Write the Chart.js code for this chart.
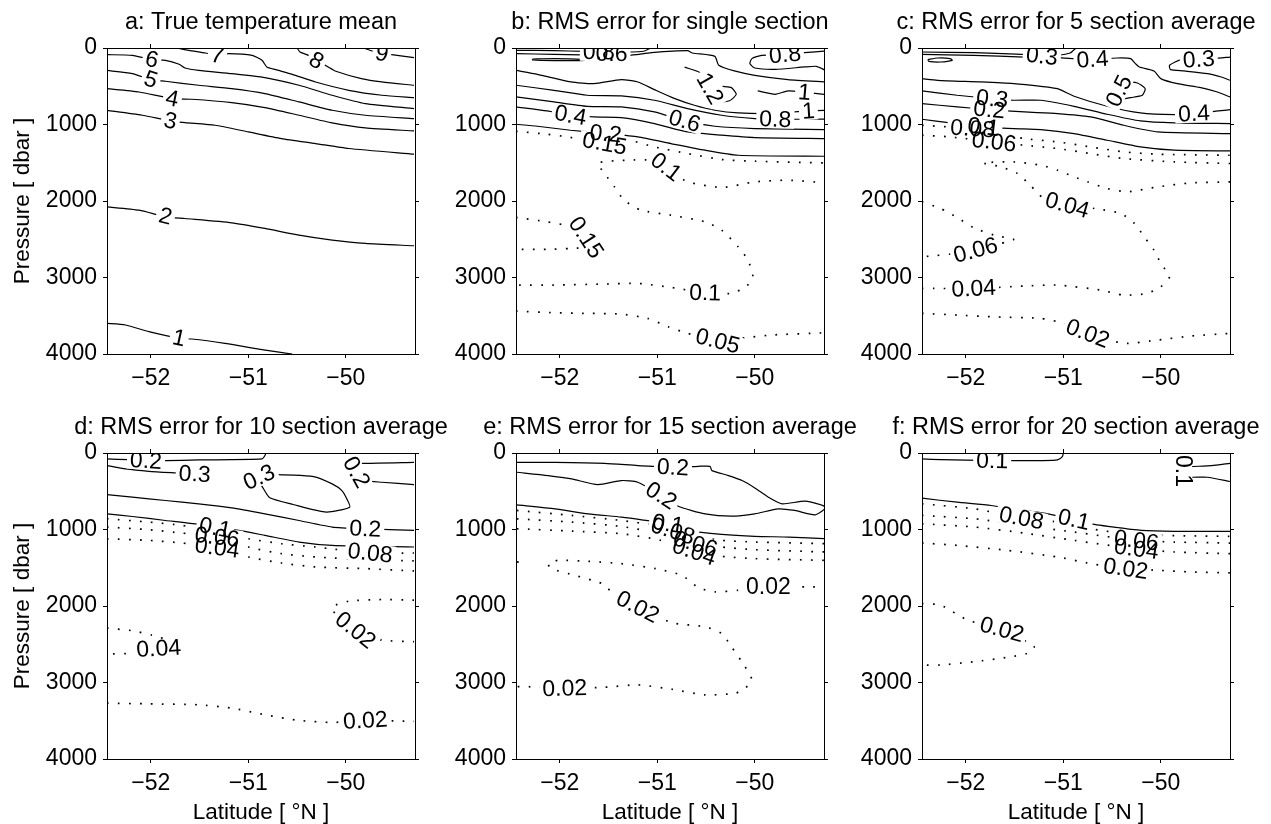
<!DOCTYPE html>
<html>
<head>
<meta charset="utf-8">
<script src="https://cdn.jsdelivr.net/npm/chart.js@4.4.1/dist/chart.umd.min.js"></script>
<style>
  html, body { margin: 0; padding: 0; background: #fff; }
  body { width: 1271px; height: 824px; position: relative; overflow: hidden; }
  canvas { position: absolute; }
</style>
</head>
<body>
<canvas id="c0" width="442" height="423"></canvas>
<canvas id="c1" width="442" height="423"></canvas>
<canvas id="c2" width="442" height="423"></canvas>
<canvas id="c3" width="442" height="423"></canvas>
<canvas id="c4" width="442" height="423"></canvas>
<canvas id="c5" width="442" height="423"></canvas>
<script>
const titles = [
  'a: True temperature mean',
  'b: RMS error for single section',
  'c: RMS error for 5 section average',
  'd: RMS error for 10 section average',
  'e: RMS error for 15 section average',
  'f: RMS error for 20 section average'
];
const latTicks = [-52, -51, -50];
const presTicks = [0, 1000, 2000, 3000, 4000];
const latRange = [-52.45, -49.29];
const presRange = [0, 4000];
// contours below this level are drawn dotted
const dottedBelow = [0, 0.2, 0.1, 0.1, 0.1, 0.1];

// each contour: level, points [lat, dbar], label positions [lat, dbar]
const tempMean = [
  { level: '9', pts: [[-49.82,0],[-49.73,39],[-49.63,70],[-49.53,87],[-49.30,126]], at: [[-49.63,70]] },
  { level: '8', pts: [[-50.50,0],[-50.47,52],[-50.40,87],[-50.30,161],[-50.18,248],[-50.11,300],[-49.84,400],[-49.63,444],[-49.30,487]], at: [[-50.30,165]] },
  { level: '7', pts: [[-51.73,0],[-51.61,30],[-51.44,65],[-51.32,96],[-51.20,74],[-50.96,96],[-50.86,161],[-50.81,248],[-50.72,283],[-50.55,344],[-50.31,444],[-49.97,553],[-49.63,618],[-49.30,649]], at: [[-51.32,96]] },
  { level: '6', pts: [[-52.46,87],[-52.19,96],[-51.99,152],[-51.85,161],[-51.71,213],[-51.65,261],[-51.51,292],[-51.17,335],[-50.83,387],[-50.48,487],[-50.14,618],[-49.80,727],[-49.30,792]], at: [[-51.99,150]] },
  { level: '5', pts: [[-52.46,292],[-52.19,335],[-52.00,413],[-51.85,435],[-51.51,487],[-51.17,531],[-50.83,596],[-50.48,705],[-50.14,814],[-49.80,879],[-49.30,923]], at: [[-52.00,413]] },
  { level: '4', pts: [[-52.46,531],[-52.12,575],[-51.78,662],[-51.58,670],[-51.17,714],[-50.83,779],[-50.48,879],[-50.14,979],[-49.80,1045],[-49.30,1084]], at: [[-51.78,662]] },
  { level: '3', pts: [[-52.46,814],[-52.09,879],[-51.80,953],[-51.65,975],[-51.34,1010],[-51.00,1097],[-50.66,1184],[-50.31,1249],[-49.97,1314],[-49.30,1388]], at: [[-51.80,953]] },
  { level: '2', pts: [[-52.46,2076],[-52.12,2120],[-51.85,2207],[-51.65,2229],[-51.17,2285],[-50.83,2359],[-50.48,2446],[-50.14,2511],[-49.80,2555],[-49.30,2585]], at: [[-51.85,2200]] },
  { level: '1', pts: [[-52.46,3600],[-52.26,3621],[-52.02,3708],[-51.71,3795],[-51.58,3804],[-51.24,3861],[-51.00,3913],[-50.72,3970],[-50.55,4000]], at: [[-51.71,3790]] }
];

const single = [
  { level: '0.8', pts: [[-52.45,30],[-52.06,35],[-51.75,44],[-51.30,52],[-51.13,39],[-51.07,0]], at: [[-51.60,52]] },
  { level: '0.6', pts: [[-52.45,74],[-52.06,83],[-51.78,91],[-51.30,96],[-51.06,61],[-50.69,35],[-50.64,65],[-50.41,109],[-50.37,226],[-50.21,300],[-50.00,357],[-49.66,413],[-49.27,444]], at: [[-51.47,74]] },
  { level: '0.8', pts: [[-52.28,144],[-52.06,139],[-51.78,148],[-51.75,161],[-52.06,165],[-52.28,157],[-52.28,144]], at: [] },
  { level: '0.8', pts: [[-49.27,39],[-49.49,61],[-49.69,87],[-49.93,96],[-50.03,139],[-50.05,205],[-50.00,261],[-49.79,279],[-49.49,248],[-49.37,239],[-49.31,270],[-49.27,300]], at: [[-49.69,87]] },
  { level: '1.2', pts: [[-50.72,250],[-50.55,330],[-50.46,531],[-50.40,700],[-50.26,690],[-50.19,605],[-50.24,518],[-50.33,501]], at: [[-50.46,531]] },
  { level: '1', pts: [[-52.45,292],[-52.23,344],[-51.89,444],[-51.65,466],[-51.37,413],[-51.20,444],[-51.03,544],[-50.82,662],[-50.62,749],[-50.41,814],[-50.17,849],[-49.83,857],[-49.66,840],[-49.45,823],[-49.27,814]], at: [[-49.45,823]] },
  { level: '1', pts: [[-49.97,561],[-49.79,605],[-49.66,561],[-49.49,579],[-49.27,609]], at: [[-49.49,579]] },
  { level: '0.8', pts: [[-52.45,487],[-52.06,553],[-51.72,618],[-51.37,627],[-51.03,683],[-50.69,792],[-50.34,879],[-50.00,923],[-49.79,931],[-49.27,931]], at: [[-49.79,931]] },
  { level: '0.6', pts: [[-52.45,640],[-52.06,705],[-51.72,762],[-51.37,770],[-51.03,836],[-50.72,953],[-50.41,1023],[-50.00,1053],[-49.27,1066]], at: [[-50.72,953]] },
  { level: '0.4', pts: [[-52.45,770],[-52.13,823],[-51.89,879],[-51.65,901],[-51.37,910],[-51.03,988],[-50.69,1097],[-50.34,1140],[-50.00,1171],[-49.27,1184]], at: [[-51.89,879]] },
  { level: '0.2', pts: [[-52.45,997],[-52.23,1023],[-51.89,1075],[-51.53,1119],[-51.20,1162],[-50.86,1249],[-50.51,1336],[-50.17,1402],[-49.27,1415]], at: [[-51.53,1119]] },
  { level: '0.15', pts: [[-52.45,1088],[-52.13,1127],[-51.92,1162],[-51.54,1249],[-51.27,1214],[-51.03,1293],[-50.69,1380],[-50.34,1458],[-50.00,1480],[-49.27,1502]], at: [[-51.54,1249]] },
  { level: '0.1', pts: [[-49.27,1763],[-49.66,1728],[-50.00,1750],[-50.34,1824],[-50.69,1750],[-50.82,1641],[-50.91,1554],[-51.06,1467],[-51.30,1467],[-51.61,1502],[-51.54,1641],[-51.44,1815],[-51.34,1989],[-51.17,2120],[-50.86,2185],[-50.51,2272],[-50.34,2381],[-50.17,2599],[-50.07,2773],[-50.02,2990],[-50.09,3121],[-50.24,3208],[-50.51,3199],[-50.86,3130],[-51.20,3077],[-51.54,3086],[-52.06,3099],[-52.45,3099]], at: [[-50.91,1554],[-50.51,3199]] },
  { level: '0.15', pts: [[-52.45,2215],[-52.13,2272],[-51.96,2310],[-51.80,2340],[-51.73,2477],[-51.68,2580],[-51.74,2607],[-51.89,2620],[-52.13,2633],[-52.45,2633]], at: [[-51.73,2477]] },
  { level: '0.05', pts: [[-52.45,3439],[-52.06,3460],[-51.72,3469],[-51.37,3478],[-51.10,3534],[-50.89,3643],[-50.69,3730],[-50.38,3830],[-50.14,3795],[-49.83,3752],[-49.27,3722]], at: [[-50.38,3830]] }
];

const avg5 = [
  { level: '0.3', pts: [[-52.45,52],[-51.92,61],[-51.37,87],[-51.22,109],[-51.06,96],[-50.93,65],[-50.87,0]], at: [[-51.22,105]] },
  { level: '0.4', pts: [[-52.45,83],[-51.92,96],[-51.40,118],[-51.06,126],[-50.89,139],[-50.70,152],[-50.45,131],[-50.31,139],[-50.26,205],[-50.22,248],[-50.07,300],[-50.00,400],[-49.83,466],[-49.59,518],[-49.42,575],[-49.29,640]], at: [[-50.70,150]] },
  { level: '0.5', pts: [[-52.39,152],[-52.29,131],[-52.16,139],[-52.14,161],[-52.26,183],[-52.38,174],[-52.39,152]], at: [] },
  { level: '0.3', pts: [[-49.29,118],[-49.45,139],[-49.61,152],[-49.79,152],[-49.91,226],[-49.90,283],[-49.76,300],[-49.52,335],[-49.38,379],[-49.29,422]], at: [[-49.61,150]] },
  { level: '0.5', pts: [[-50.48,683],[-50.43,553],[-50.36,444],[-50.24,457],[-50.16,531],[-50.19,618],[-50.31,649],[-50.43,675],[-50.48,683]], at: [[-50.43,560]] },
  { level: '0.4', pts: [[-52.45,400],[-52.29,422],[-51.85,444],[-51.51,466],[-51.23,501],[-51.06,531],[-50.89,631],[-50.55,762],[-50.21,849],[-49.86,871],[-49.66,857],[-49.29,805]], at: [[-49.66,857]] },
  { level: '0.3', pts: [[-52.45,561],[-52.09,618],[-51.73,662],[-51.51,683],[-51.23,683],[-50.89,762],[-50.55,866],[-50.21,953],[-49.86,979],[-49.29,988]], at: [[-51.73,662]] },
  { level: '0.2', pts: [[-52.45,727],[-52.09,770],[-51.76,805],[-51.40,836],[-51.06,857],[-50.72,901],[-50.38,1010],[-50.03,1097],[-49.29,1119]], at: [[-51.76,805]] },
  { level: '0.1', pts: [[-52.45,931],[-52.16,979],[-51.82,1031],[-51.51,1053],[-51.23,1066],[-50.89,1119],[-50.55,1206],[-50.21,1293],[-49.86,1336],[-49.29,1345]], at: [[-51.82,1031]] },
  { level: '0.08', pts: [[-52.45,1010],[-52.19,1031],[-51.93,1053],[-51.64,1119],[-51.40,1184],[-51.06,1227],[-50.72,1293],[-50.38,1358],[-50.03,1388],[-49.29,1402]], at: [[-51.93,1053]] },
  { level: '0.06', pts: [[-52.45,1140],[-52.16,1162],[-51.71,1227],[-51.40,1271],[-51.06,1314],[-50.72,1380],[-50.38,1445],[-49.86,1489],[-49.29,1510]], at: [[-51.71,1227]] },
  { level: '0.04', pts: [[-49.29,1750],[-49.69,1763],[-50.03,1815],[-50.34,1880],[-50.55,1837],[-50.75,1750],[-50.89,1684],[-51.06,1597],[-51.23,1532],[-51.51,1489],[-51.82,1502],[-51.64,1554],[-51.47,1641],[-51.34,1793],[-51.20,1967],[-50.96,2054],[-50.68,2098],[-50.41,2163],[-50.27,2294],[-50.17,2468],[-50.07,2642],[-50.00,2816],[-49.91,2990],[-50.00,3121],[-50.14,3208],[-50.38,3230],[-50.62,3164],[-51.06,3099],[-51.40,3112],[-51.92,3143],[-52.33,3143],[-52.45,3143]], at: [[-50.96,2054],[-51.92,3143]] },
  { level: '0.06', pts: [[-52.45,2010],[-52.26,2098],[-52.09,2215],[-51.92,2350],[-51.71,2446],[-51.51,2503],[-51.64,2555],[-51.90,2642],[-52.16,2694],[-52.36,2720],[-52.45,2729]], at: [[-51.90,2642]] },
  { level: '0.02', pts: [[-52.45,3469],[-52.09,3491],[-51.75,3513],[-51.23,3534],[-51.06,3578],[-50.75,3730],[-50.38,3861],[-50.03,3817],[-49.69,3765],[-49.29,3730]], at: [[-50.75,3730]] }
];

const avg10 = [
  { level: '0.2', pts: [[-52.45,78],[-52.23,87],[-52.05,100],[-51.85,100],[-51.51,91],[-50.86,78],[-50.83,35],[-50.82,0]], at: [[-52.05,100]] },
  { level: '0.3', pts: [[-52.45,165],[-52.26,208],[-52.02,239],[-51.75,260],[-51.55,274],[-51.47,270]], at: [[-51.55,274]] },
  { level: '0.3', pts: [[-50.95,352],[-50.89,317],[-50.74,282],[-50.33,308],[-50.14,404],[-50.04,491],[-49.99,599],[-49.96,708],[-50.20,773],[-50.54,673],[-50.78,586],[-50.85,456],[-50.88,395]], at: [[-50.89,317]] },
  { level: '0.2', pts: [[-49.30,122],[-49.80,135],[-49.94,152],[-49.89,265],[-49.80,360],[-49.63,382],[-49.30,413]], at: [[-49.89,250]] },
  { level: '0.2', pts: [[-52.45,543],[-52.19,578],[-51.85,621],[-51.51,664],[-51.17,717],[-50.83,795],[-50.48,882],[-50.14,968],[-49.80,990],[-49.30,1012]], at: [[-49.80,990]] },
  { level: '0.1', pts: [[-52.45,795],[-52.19,830],[-51.85,882],[-51.51,934],[-51.34,975],[-51.10,1012],[-50.83,1077],[-50.48,1164],[-50.14,1207],[-49.30,1229]], at: [[-51.34,975]] },
  { level: '0.08', pts: [[-52.45,860],[-52.02,903],[-51.68,947],[-51.34,1034],[-51.00,1121],[-50.66,1186],[-50.31,1229],[-49.75,1307],[-49.30,1307]], at: [[-49.75,1307]] },
  { level: '0.06', pts: [[-52.45,968],[-52.02,1003],[-51.68,1047],[-51.32,1099],[-51.00,1229],[-50.66,1316],[-50.31,1359],[-49.80,1394],[-49.30,1411]], at: [[-51.32,1099]] },
  { level: '0.04', pts: [[-52.45,1121],[-52.02,1142],[-51.68,1177],[-51.32,1238],[-51.00,1359],[-50.66,1438],[-50.31,1490],[-49.80,1511],[-49.30,1542]], at: [[-51.32,1238]] },
  { level: '0.02', pts: [[-49.30,1924],[-49.63,1915],[-49.97,1937],[-50.14,2011],[-50.11,2098],[-49.90,2315],[-49.63,2445],[-49.30,2467]], at: [[-49.90,2315]] },
  { level: '0.04', pts: [[-52.45,2289],[-52.19,2323],[-51.99,2380],[-51.78,2467],[-51.70,2554],[-51.85,2584],[-52.02,2597],[-52.19,2619],[-52.45,2628]], at: [[-51.92,2554]] },
  { level: '0.02', pts: [[-52.45,3270],[-52.02,3279],[-51.51,3292],[-51.17,3335],[-50.83,3422],[-50.48,3496],[-50.14,3522],[-49.80,3496],[-49.30,3509]], at: [[-49.80,3496]] }
];

const avg15 = [
  { level: '0.2', pts: [[-52.44,122],[-52.05,122],[-51.54,135],[-51.20,165],[-51.02,174],[-50.84,187],[-50.58,174],[-50.46,174],[-50.44,230],[-50.27,295],[-50.13,360],[-50.00,456],[-49.86,578],[-49.72,664],[-49.48,630],[-49.27,708],[-49.38,808],[-49.59,751],[-49.76,730],[-50.00,795],[-50.24,825],[-50.51,795],[-50.78,699],[-50.96,556],[-51.20,382],[-51.37,360],[-51.61,413],[-51.88,339],[-52.12,295],[-52.44,252]], at: [[-50.84,187],[-50.96,556]] },
  { level: '0.1', pts: [[-52.44,678],[-52.05,730],[-51.71,795],[-51.37,838],[-51.16,873],[-50.89,925],[-50.68,1012],[-50.34,1064],[-50.00,1090],[-49.65,1099],[-49.27,1121]], at: [[-50.89,925]] },
  { level: '0.08', pts: [[-52.44,751],[-51.88,816],[-51.37,882],[-51.02,947],[-50.84,1020],[-50.68,1077],[-50.34,1142],[-50.00,1164],[-49.27,1186]], at: [[-50.84,1020]] },
  { level: '0.06', pts: [[-52.44,860],[-51.88,903],[-51.37,960],[-50.96,1055],[-50.61,1186],[-50.34,1229],[-50.00,1264],[-49.27,1294]], at: [[-50.61,1186]] },
  { level: '0.04', pts: [[-52.44,990],[-51.88,1021],[-51.37,1055],[-50.96,1142],[-50.61,1294],[-50.34,1351],[-50.00,1381],[-49.27,1403]], at: [[-50.62,1290]] },
  { level: '0.02', pts: [[-49.27,1750],[-49.48,1750],[-49.86,1750],[-50.17,1794],[-50.41,1815],[-50.58,1759],[-50.75,1598],[-51.02,1511],[-51.37,1446],[-51.71,1416],[-52.02,1403],[-52.12,1446],[-52.09,1511],[-51.85,1598],[-51.57,1707],[-51.43,1859],[-51.20,2011],[-50.85,2219],[-50.51,2271],[-50.34,2358],[-50.24,2532],[-50.10,2793],[-50.03,2966],[-50.10,3075],[-50.20,3140],[-50.51,3162],[-50.85,3088],[-51.20,3031],[-51.54,3062],[-51.95,3075],[-52.36,3053],[-52.44,3053]], at: [[-49.86,1750],[-51.20,2011],[-51.95,3075]] },
  { level: '0.02', pts: [[-52.44,1424],[-52.36,1433]], at: [] }
];

const avg20 = [
  { level: '0.1', pts: [[-52.45,78],[-52.26,87],[-51.73,100],[-51.50,100],[-51.23,100],[-51.06,91],[-51.01,48],[-51.00,0]], at: [[-51.73,100]] },
  { level: '0.1', pts: [[-49.29,135],[-49.48,165],[-49.69,178],[-49.77,187],[-49.77,308],[-49.52,317],[-49.29,373]], at: [[-49.77,235]] },
  { level: '0.1', pts: [[-52.45,591],[-52.09,643],[-51.74,686],[-51.40,751],[-51.16,795],[-50.89,870],[-50.68,934],[-50.54,960],[-50.20,1012],[-49.86,1025],[-49.29,1025]], at: [[-50.89,870]] },
  { level: '0.08', pts: [[-52.45,664],[-51.91,730],[-51.43,850],[-51.06,903],[-50.72,990],[-50.37,1055],[-50.03,1077],[-49.29,1090]], at: [[-51.43,850]] },
  { level: '0.06', pts: [[-52.45,816],[-51.91,860],[-51.40,947],[-50.89,1034],[-50.25,1142],[-49.86,1164],[-49.29,1177]], at: [[-50.25,1142]] },
  { level: '0.04', pts: [[-52.45,925],[-51.91,968],[-51.40,1047],[-50.89,1142],[-50.25,1255],[-49.86,1294],[-49.29,1316]], at: [[-50.25,1255]] },
  { level: '0.02', pts: [[-52.45,1177],[-52.09,1207],[-51.57,1273],[-51.06,1359],[-50.72,1446],[-50.36,1511],[-50.03,1533],[-49.69,1555],[-49.29,1568]], at: [[-50.36,1511]] },
  { level: '0.02', pts: [[-52.45,1967],[-52.26,1989],[-51.98,2185],[-51.63,2306],[-51.30,2532],[-51.37,2619],[-51.57,2671],[-51.91,2727],[-52.26,2771],[-52.45,2771]], at: [[-51.63,2306]] }
];

const panelLines = [tempMean, single, avg5, avg10, avg15, avg20];
const colLeft = [7, 416, 822];
const rowTop = [1, 406];

Chart.defaults.font.family = '"Liberation Sans", Arial, Helvetica, sans-serif';
Chart.defaults.color = '#000';

// draws the contour level labels along their lines, with a blank gap behind them
const contourLabels = {
  id: 'contourLabels',
  afterDatasetsDraw(chart) {
    const { ctx, chartArea, scales } = chart;
    const xs = scales.x, ys = scales.y;
    const marks = [];
    chart.data.datasets.forEach(ds => {
      const px = ds.data.map(d => [xs.getPixelForValue(d.x), ys.getPixelForValue(d.y)]);
      ds.labelAt.forEach(([lat, p]) => {
        const cx = xs.getPixelForValue(lat), cy = ys.getPixelForValue(p);
        let best = Infinity, ang = 0;
        for (let k = 0; k < px.length - 1; k++) {
          const [x1, y1] = px[k], [x2, y2] = px[k + 1];
          const dx = x2 - x1, dy = y2 - y1;
          const len2 = dx * dx + dy * dy || 1;
          const t = Math.max(0, Math.min(1, ((cx - x1) * dx + (cy - y1) * dy) / len2));
          const ex = x1 + t * dx - cx, ey = y1 + t * dy - cy;
          const d2 = ex * ex + ey * ey;
          if (d2 < best) { best = d2; ang = Math.atan2(dy, dx); }
        }
        if (ang > Math.PI / 2 + 1e-6) ang -= Math.PI;
        if (ang <= -Math.PI / 2 + 1e-6) ang += Math.PI;
        marks.push({ cx, cy, ang, text: ds.label });
      });
    });
    ctx.save();
    ctx.beginPath();
    ctx.rect(chartArea.left + 1, chartArea.top + 1, chartArea.width - 2, chartArea.height - 2);
    ctx.clip();
    ctx.font = '23px "Liberation Sans", Arial, sans-serif';
    ctx.textAlign = 'center';
    ctx.textBaseline = 'middle';
    marks.forEach(m => {
      const w = ctx.measureText(m.text).width;
      ctx.save();
      ctx.translate(m.cx, m.cy);
      ctx.rotate(m.ang);
      ctx.fillStyle = '#fff';
      ctx.fillRect(-w / 2 - 3, -9, w + 6, 18);
      ctx.restore();
    });
    marks.forEach(m => {
      ctx.save();
      ctx.translate(m.cx, m.cy);
      ctx.rotate(m.ang);
      ctx.fillStyle = '#000';
      ctx.fillText(m.text, 0, 1);
      ctx.restore();
    });
    ctx.restore();
  }
};

// panel title centred over the plot area, allowed to run wider than it
const panelTitle = {
  id: 'panelTitle',
  afterDraw(chart, args, opts) {
    const { ctx, chartArea } = chart;
    ctx.save();
    ctx.font = '23.5px "Liberation Sans", Arial, sans-serif';
    ctx.fillStyle = '#000';
    ctx.textAlign = 'center';
    ctx.textBaseline = 'middle';
    ctx.fillText(opts.text, (chartArea.left + chartArea.right) / 2, chartArea.top - 25.5);
    ctx.restore();
  }
};

const setLatTicks = s => { s.ticks = latTicks.map(v => ({ value: v })); };
const setPresTicks = s => { s.ticks = presTicks.map(v => ({ value: v })); };
const tickGrid = { drawOnChartArea: false, drawTicks: true, tickLength: 4, color: '#000', lineWidth: 1 };
const frame = { display: true, color: '#000', width: 1 };

panelLines.forEach((lines, i) => {
  const col = i % 3, row = Math.floor(i / 3);
  const canvas = document.getElementById('c' + i);
  canvas.style.left = colLeft[col] + 'px';
  canvas.style.top = rowTop[row] + 'px';

  const datasets = lines.map(c => {
    const dotted = Number(c.level) < dottedBelow[i];
    return {
      label: c.level,
      data: c.pts.map(([x, y]) => ({ x, y })),
      labelAt: c.at,
      showLine: true,
      pointRadius: 0,
      borderColor: '#000',
      borderWidth: dotted ? 1.7 : 1.2,
      borderDash: dotted ? [1.7, 9.3] : [],
      tension: 0.2,
      fill: false
    };
  });

  new Chart(canvas, {
    type: 'scatter',
    data: { datasets },
    options: {
      responsive: false,
      animation: false,
      devicePixelRatio: 1,
      layout: { padding: { left: 0, right: 30, top: 43, bottom: 0 } },
      plugins: {
        legend: { display: false },
        tooltip: { enabled: false },
        title: { display: false },
        panelTitle: { text: titles[i] }
      },
      scales: {
        x: {
          type: 'linear', position: 'bottom',
          min: latRange[0], max: latRange[1],
          afterBuildTicks: setLatTicks,
          afterFit: s => { s.height = 70; },
          ticks: { callback: v => String(v).replace('-', '\u2212'), font: { size: 23 }, color: '#000', padding: 7, maxRotation: 0, autoSkip: false },
          grid: tickGrid,
          border: frame,
          title: { display: row === 1, text: 'Latitude [ °N ]', color: '#000', font: { size: 22.5 }, padding: { top: 0, bottom: 3 } }
        },
        xTop: {
          type: 'linear', position: 'top',
          min: latRange[0], max: latRange[1],
          afterBuildTicks: setLatTicks,
          afterFit: s => { s.height = 4; },
          ticks: { display: false },
          grid: tickGrid,
          border: frame
        },
        y: {
          type: 'linear', position: 'left', reverse: true,
          min: presRange[0], max: presRange[1],
          afterBuildTicks: setPresTicks,
          afterFit: s => { s.width = 100; },
          ticks: { callback: v => String(v), font: { size: 23 }, color: '#000', padding: 6, autoSkip: false },
          grid: tickGrid,
          border: frame,
          title: { display: col === 0, text: 'Pressure [ dbar ]', color: '#000', font: { size: 22.5 }, padding: { top: 2, bottom: 0 } }
        },
        yRight: {
          type: 'linear', position: 'right', reverse: true,
          min: presRange[0], max: presRange[1],
          afterBuildTicks: setPresTicks,
          afterFit: s => { s.width = 4; },
          ticks: { display: false },
          grid: tickGrid,
          border: frame
        }
      }
    },
    plugins: [contourLabels, panelTitle]
  });
});
</script>
</body>
</html>
